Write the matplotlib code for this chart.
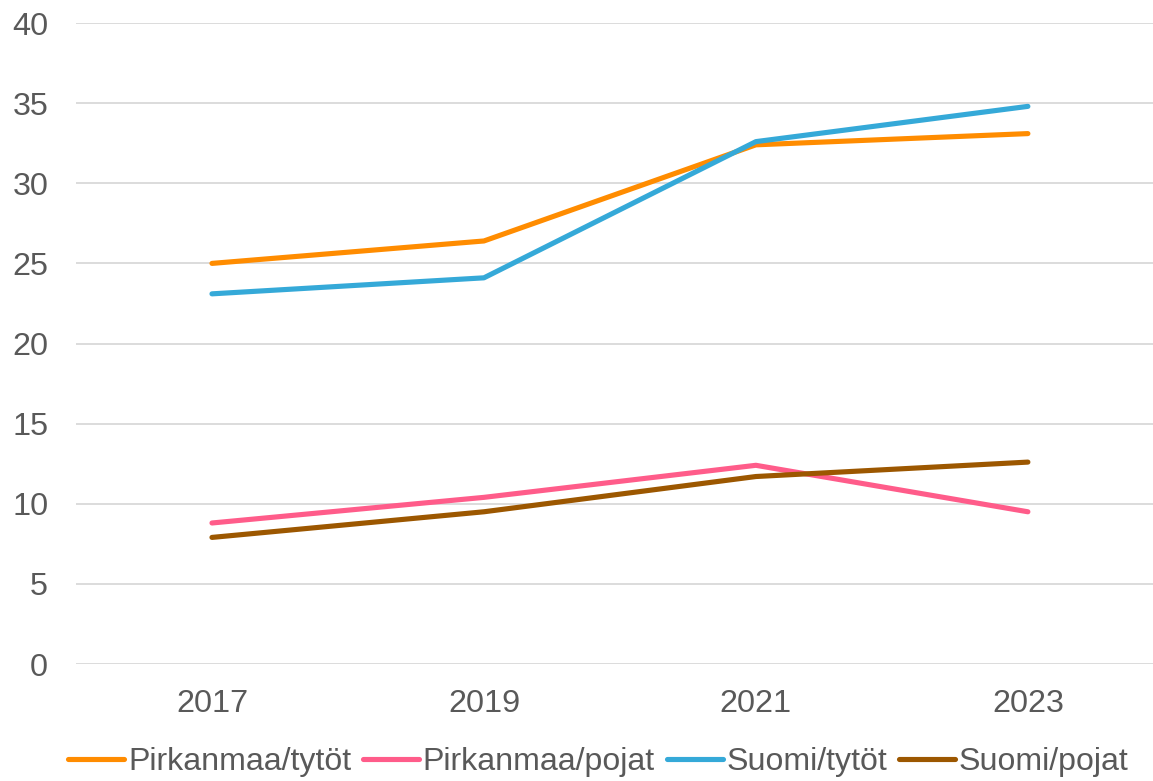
import numpy as np
import matplotlib.pyplot as plt

plt.rcParams['font.family'] = ['Liberation Sans', 'DejaVu Sans']

years = ['2017', '2019', '2021', '2023']
pirkanmaa_tytot = [25.0, 26.4, 32.4, 33.1]
pirkanmaa_pojat = [8.8, 10.4, 12.4, 9.5]
suomi_tytot = [23.1, 24.1, 32.6, 34.8]
suomi_pojat = [7.9, 9.5, 11.7, 12.6]

series = [
    ('Pirkanmaa/tytöt', pirkanmaa_tytot, '#FF8C00'),
    ('Pirkanmaa/pojat', pirkanmaa_pojat, '#FF5C8A'),
    ('Suomi/tytöt', suomi_tytot, '#35A9D8'),
    ('Suomi/pojat', suomi_pojat, '#9C5700'),
]

textcol = '#595959'

fig = plt.figure(figsize=(11.53, 7.81), dpi=100)
ax = fig.add_axes([0.0659, 0.1498, 0.9341, 0.8207])

x = np.arange(len(years))
for name, vals, col in series:
    ax.plot(x, vals, color=col, lw=3.7, label=name, solid_capstyle='round')

ax.set_xlim(-0.5, 3.46)
ax.set_ylim(0, 40)
ax.set_yticks(np.arange(0, 41, 5))
ax.set_xticks(x)
ax.set_xticklabels(years)
ax.grid(axis='y', color='#D9D9D9', lw=1.3)
ax.set_axisbelow(True)
for s in ax.spines.values():
    s.set_visible(False)
ax.tick_params(axis='both', length=0, labelsize=23.3, colors=textcol)
ax.tick_params(axis='y', pad=20)
ax.tick_params(axis='x', pad=18)

leg = fig.legend(loc='center', bbox_to_anchor=(0.519, 0.024), ncol=4, frameon=False,
                 fontsize=23.1, handlelength=1.74, handletextpad=0.12, columnspacing=0.37,
                 labelcolor=textcol)

fig.savefig('out.png', dpi=100)
